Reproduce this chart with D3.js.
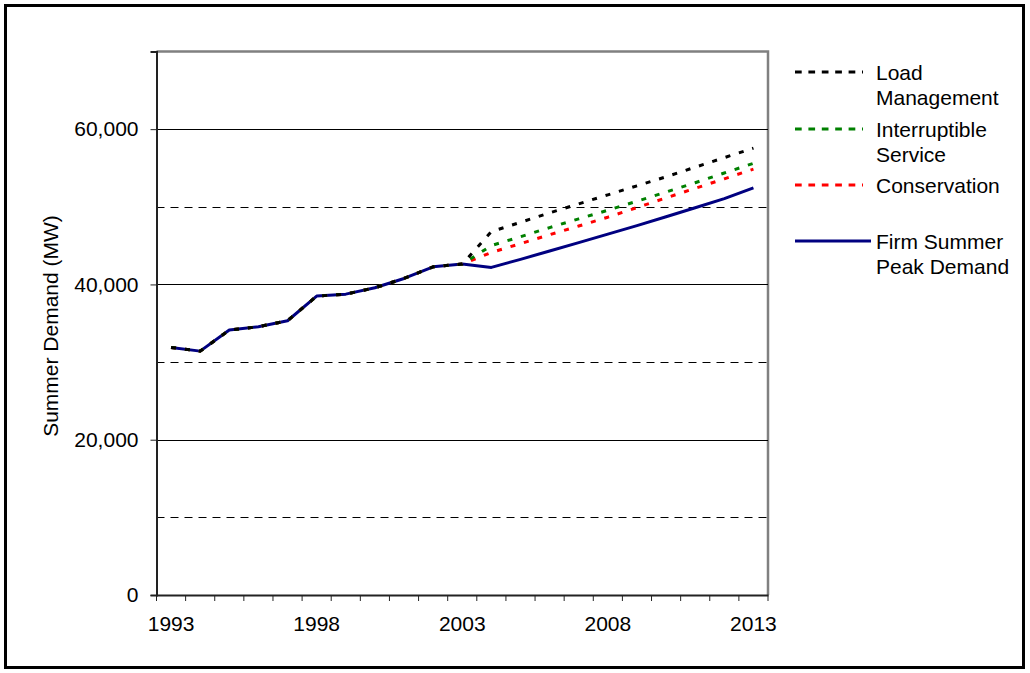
<!DOCTYPE html>
<html>
<head>
<meta charset="utf-8">
<script src="https://cdn.jsdelivr.net/npm/d3@7"></script>
<style>
  html, body { margin: 0; padding: 0; background: #fff; }
  svg { display: block; font-family: "Liberation Sans", Arial, sans-serif; }
</style>
</head>
<body>
<svg id="chart" width="1030" height="673"></svg>
<script>
// Years on the category axis
const years = d3.range(1993, 2014);
const yearLabels = [1993, 1998, 2003, 2008, 2013];

// Historic actuals 1993-2003 (shared by every series)
const history = [31890, 31410, 34120, 34550, 35320, 38500, 38750, 39570, 40770, 42270, 42620];

// Forecast 2004-2013
const firmPeak       = [42190, 43230, 44300, 45380, 46480, 47570, 48710, 49870, 51050, 52440];
const conservation   = [44120, 45250, 46400, 47520, 48660, 49900, 51150, 52380, 53600, 54850];
const interruptible  = [45000, 46150, 47320, 48450, 49550, 50720, 51900, 53100, 54350, 55600];
const loadManagement = [46800, 48000, 49220, 50380, 51540, 52700, 53860, 55100, 56330, 57550];

const yTicksMajor = [0, 20000, 40000, 60000];
const yTicksMinor = [10000, 30000, 50000];

const series = [
  { name: ["Firm Summer", "Peak Demand"], values: history.concat(firmPeak), color: "#000080", dash: null },
  { name: ["Conservation"], values: history.concat(conservation), color: "#ff0000", dash: "5,9" },
  { name: ["Interruptible", "Service"], values: history.concat(interruptible), color: "#008000", dash: "5,9" },
  { name: ["Load", "Management"], values: history.concat(loadManagement), color: "#000000", dash: "5,9" }
];

const FONT = 21;
const svg = d3.select("#chart");

// Outer frame
svg.append("rect")
  .attr("x", 5.5).attr("y", 5.5).attr("width", 1018).attr("height", 662)
  .attr("fill", "none").attr("stroke", "#000").attr("stroke-width", 3);

const plot = { left: 156.5, right: 768, top: 51.5, bottom: 595 };

const x = d3.scaleBand().domain(years).range([plot.left, plot.right]).padding(0);
const y = d3.scaleLinear().domain([0, 70000]).range([plot.bottom, plot.top]);
const cx = d => x(d) + x.bandwidth() / 2;

// Plot area border (top and right in grey)
svg.append("path")
  .attr("d", `M${plot.left},${plot.top}H${plot.right}V${plot.bottom}`)
  .attr("fill", "none").attr("stroke", "#808080").attr("stroke-width", 2.5);

// Gridlines
svg.append("g").selectAll("line").data(yTicksMajor.slice(1)).join("line")
  .attr("x1", plot.left).attr("x2", plot.right)
  .attr("y1", d => Math.round(y(d)) + 0.5).attr("y2", d => Math.round(y(d)) + 0.5)
  .attr("stroke", "#000").attr("stroke-width", 1);
svg.append("g").selectAll("line").data(yTicksMinor).join("line")
  .attr("x1", plot.left).attr("x2", plot.right)
  .attr("y1", d => Math.round(y(d)) + 0.5).attr("y2", d => Math.round(y(d)) + 0.5)
  .attr("stroke", "#000").attr("stroke-width", 1).attr("stroke-dasharray", "8,6");

// Y axis
const yAxis = svg.append("g").attr("transform", `translate(${plot.left},0)`)
  .call(d3.axisLeft(y).tickValues(yTicksMajor).tickSize(6).tickPadding(12).tickFormat(d3.format(",")));
yAxis.select(".domain").attr("stroke", "#222").attr("stroke-width", 2);
yAxis.selectAll(".tick line").attr("stroke", "#222");
yAxis.selectAll("text").attr("font-size", FONT).attr("fill", "#000")
  .attr("font-family", "'Liberation Sans', Arial, sans-serif");

// X axis: tick marks on category boundaries, labels every five years
const xAxis = svg.append("g").attr("transform", `translate(0,${plot.bottom})`)
  .call(d3.axisBottom(x).tickValues(yearLabels).tickSize(0).tickPadding(21));
xAxis.select(".domain").attr("stroke", "#222").attr("stroke-width", 2);
xAxis.selectAll("text").attr("font-size", FONT).attr("fill", "#000")
  .attr("font-family", "'Liberation Sans', Arial, sans-serif");
const boundaries = years.map(d => x(d)).concat([x(years[years.length - 1]) + x.bandwidth()]);
svg.append("g").selectAll("line").data(boundaries).join("line")
  .attr("x1", d => d).attr("x2", d => d)
  .attr("y1", plot.bottom).attr("y2", plot.bottom + 6)
  .attr("stroke", "#222").attr("stroke-width", 1);

// Y axis title
svg.append("text")
  .attr("transform", `translate(58,326) rotate(-90)`)
  .attr("text-anchor", "middle")
  .attr("font-size", FONT)
  .text("Summer Demand (MW)");

// Series lines
const line = d3.line().x((d, i) => cx(years[i])).y(d => y(d));
svg.append("g").selectAll("path").data(series).join("path")
  .attr("d", d => line(d.values))
  .attr("fill", "none")
  .attr("stroke", d => d.color)
  .attr("stroke-width", 3)
  .attr("stroke-linejoin", "round")
  .attr("stroke-dasharray", d => d.dash);

// Legend
const legendItems = [
  { s: series[3], y: 72 },
  { s: series[2], y: 129 },
  { s: series[1], y: 185 },
  { s: series[0], y: 241 }
];
const lg = svg.append("g");
legendItems.forEach(item => {
  const dashed = item.s.dash !== null;
  lg.append("line")
    .attr("x1", 795).attr("x2", dashed ? 863 : 871)
    .attr("y1", item.y).attr("y2", item.y)
    .attr("stroke", item.s.color).attr("stroke-width", 3)
    .attr("stroke-dasharray", dashed ? "6.7,6.7" : null);
  const t = lg.append("text").attr("x", 876).attr("y", item.y).attr("font-size", FONT)
    .attr("dominant-baseline", "central");
  item.s.name.forEach((n, i) => {
    t.append("tspan").attr("x", 876).attr("dy", i === 0 ? 0 : 24.5).text(n);
  });
});
</script>
</body>
</html>
